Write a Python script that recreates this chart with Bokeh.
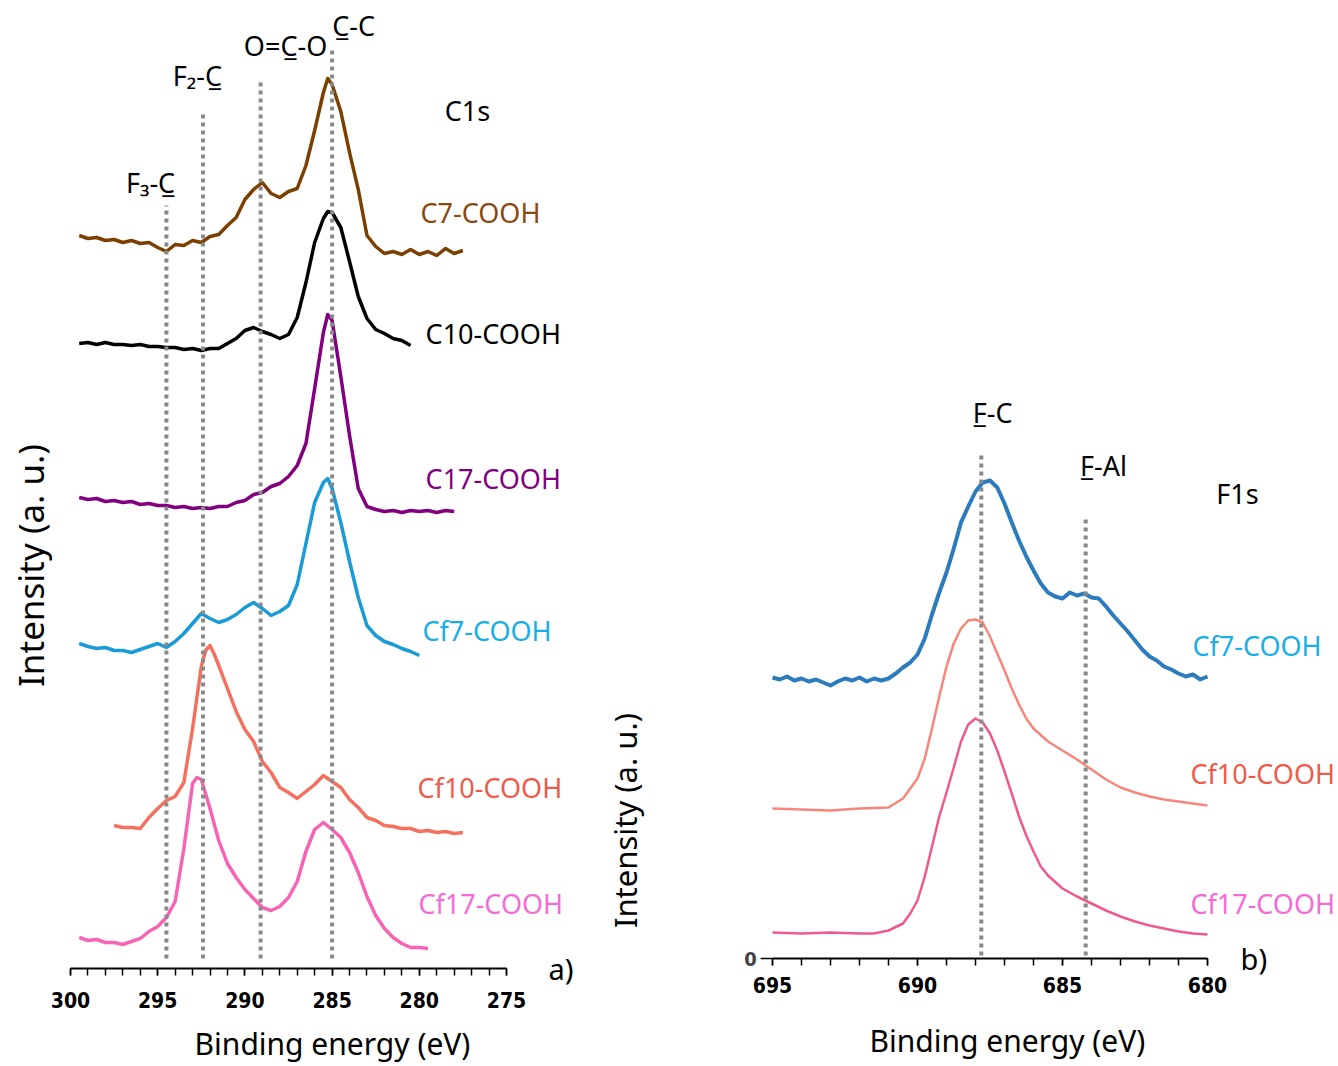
from math import pi
from bokeh.plotting import figure
from bokeh.models import Range1d, SingleIntervalTicker, Label
from bokeh.layouts import row
from bokeh.embed import file_html
from bokeh.resources import INLINE

TXT_FONT = "Noto Sans"
TICK_FONT = "Liberation Sans Narrow, DejaVu Sans Condensed, Liberation Sans"

# ---------------- C1s data (binding energy in eV, intensity in a.u., offset stacked) ----------------
e_main = [299.5, 299.0, 298.5, 298.0, 297.5, 297.0, 296.5, 296.0, 295.5, 295.0,
          294.5, 294.0, 293.5, 293.0, 292.5, 292.0, 291.5, 291.0, 290.5, 290.0,
          289.5, 289.0, 288.5, 288.0, 287.5, 287.0, 286.5, 286.0, 285.5, 285.25]

c7_e = e_main + [285.0, 284.5, 284.0, 283.5, 283.0, 282.5, 282.0, 281.5, 281.0, 280.5,
                 280.0, 279.5, 279.0, 278.5, 278.0, 277.5]
c7_y = [733, 730, 731, 728, 729, 726, 728, 725, 726, 721,
        717, 724, 723, 728, 726, 732, 734, 743, 751, 769,
        779, 786, 775, 771, 777, 780, 803, 838, 876, 890,
        884, 857, 816, 779, 733, 722, 715, 717, 714, 719,
        714, 717, 713, 720, 715, 718]

c10_e = e_main + [285.0, 284.5, 284.0, 283.5, 283.0, 282.5, 282.0, 281.5, 281.0, 280.5]
c10_y = [625, 626, 624, 626, 624, 624, 623, 624, 622, 622,
         621, 621, 619, 620, 618, 620, 620, 625, 630, 638,
         641, 637, 634, 630, 634, 651, 686, 726, 750, 757,
         756, 741, 707, 672, 650, 639, 635, 630, 628, 623]

c17_e = e_main + [285.0, 284.5, 284.0, 283.5, 283.0, 282.5, 282.0, 281.5, 281.0, 280.5,
                  280.0, 279.5, 279.0, 278.5, 278.0]
c17_y = [471, 469, 470, 467, 468, 466, 467, 464, 465, 463,
         463, 461, 462, 460, 461, 460, 462, 462, 466, 468,
         474, 476, 482, 485, 492, 503, 525, 580, 636, 654,
         648, 592, 533, 480, 462, 459, 457, 458, 456, 458,
         457, 458, 456, 458, 457]

cf7_e = e_main + [285.0, 284.5, 284.0, 283.5, 283.0, 282.5, 282.0, 281.5, 281.0, 280.5,
                  280.0]
cf7_y = [325, 322, 320, 321, 318, 318, 316, 319, 322, 325,
         321, 327, 335, 345, 355, 350, 346, 349, 354, 361,
         366, 360, 353, 357, 363, 384, 425, 466, 486, 490,
         480, 446, 407, 371, 343, 333, 327, 324, 320, 317,
         313]

cf10_e = [297.5, 297.0, 296.5, 296.0, 295.5, 295.0, 294.5, 294.0, 293.5, 293.0,
          292.5, 292.25, 292.0, 291.75,
          291.5, 291.0, 290.5, 290.0, 289.5, 289.0, 288.5, 288.0, 287.5, 287.0,
          286.5, 286.0, 285.5, 285.0, 284.5, 284.0, 283.5, 283.0, 282.5, 282.0,
          281.5, 281.0, 280.5, 280.0, 279.5, 279.0, 278.5, 278.0, 277.5]
cf10_y = [143, 141, 141, 140, 151, 160, 168, 172, 186, 240,
          302, 318, 323, 314,
          303, 280, 257, 239, 227, 207, 196, 181, 176, 170,
          177, 184, 193, 187, 181, 169, 161, 151, 148, 143,
          142, 140, 140, 137, 138, 136, 137, 135, 136]

cf17_e = [299.5, 299.0, 298.5, 298.0, 297.5, 297.0, 296.5, 296.0, 295.5, 295.0,
          294.5, 294.0, 293.5, 293.0,
          292.75,
          292.5, 292.0, 291.5, 291.0, 290.5, 290.0, 289.5, 289.0, 288.5, 288.0,
          287.5, 287.0, 286.5, 286.0, 285.5, 285.0, 284.5, 284.0, 283.5, 283.0,
          282.5, 282.0, 281.5, 281.0, 280.5, 280.0, 279.5]
cf17_y = [31, 28, 29, 26, 26, 24, 27, 30, 37, 42,
          51, 67, 120, 185,
          191,
          189, 160, 128, 105, 91, 79, 70, 61, 58, 62,
          71, 87, 117, 139, 146, 139, 131, 116, 96, 72,
          53, 40, 31, 25, 21, 21, 20]

c1s_names = ["C7-COOH", "C10-COOH", "C17-COOH", "Cf7-COOH", "Cf10-COOH", "Cf17-COOH"]
c1s_line_colors = ["#7b3f00", "#000000", "#800080", "#1a9ad6", "#f4705f", "#f864b4"]
c1s_text_colors = ["#8a4a10", "#000000", "#800080", "#18aee8", "#f05a4a", "#f56bd6"]
c1s_peak_e = [294.5, 292.4, 289.1, 285.0]
c1s_peak_top = [763, 858, 886, 920]
c1s_peak_labels = ["F\u2083-C\u0332", "F\u2082-C\u0332", "O=C\u0332-O", "C\u0332-C"]

# ---------------- F1s data ----------------
f7_e = [695.0, 694.75, 694.5, 694.25, 694.0, 693.75, 693.5, 693.25, 693.0, 692.75,
        692.5, 692.25, 692.0, 691.75, 691.5, 691.25, 691.0, 690.75, 690.5, 690.25,
        690.0, 689.75, 689.5, 689.25, 689.0, 688.75, 688.5, 688.25, 688.0, 687.75,
        687.5, 687.25, 687.0, 686.75, 686.5, 686.25, 686.0, 685.75, 685.5, 685.25,
        685.0, 684.75, 684.5, 684.25, 684.0, 683.75, 683.5, 683.25, 683.0, 682.75,
        682.5, 682.25, 682.0, 681.75, 681.5, 681.25, 681.0, 680.75, 680.5, 680.25,
        680.0]
f7_y = [281, 279, 282, 278, 280, 277, 279, 276, 273, 277,
        280, 278, 281, 277, 280, 278, 280, 285, 291, 296,
        304, 320, 344, 366, 386, 410, 436, 452, 467, 476,
        478, 471, 455, 436, 418, 402, 388, 375, 366, 362,
        360, 366, 363, 365, 361, 360, 352, 343, 335, 327,
        318, 309, 302, 298, 292, 289, 285, 282, 284, 279,
        282]

f10_e = [695.0, 694.0, 693.0, 692.0, 691.0, 690.5, 690.0, 689.75, 689.5, 689.25,
         689.0, 688.75, 688.5, 688.25, 688.0, 687.75, 687.5, 687.25, 687.0, 686.75,
         686.5, 686.25, 686.0, 685.5, 685.0, 684.5, 684.0, 683.5, 683.0, 682.5,
         682.0, 681.5, 681.0, 680.5, 680.0]
f10_y = [150, 149, 148, 150, 151, 160, 180, 200, 230, 262,
         292, 315, 330, 338, 339, 336, 322, 305, 288, 270,
         254, 240, 230, 217, 208, 199, 189, 179, 171, 166,
         162, 159, 157, 155, 153]

f17_e = [695.0, 694.0, 693.0, 692.0, 691.5, 691.0, 690.5, 690.25, 690.0, 689.75,
         689.5, 689.25, 689.0, 688.75, 688.5, 688.25, 688.0, 687.75, 687.5, 687.25,
         687.0, 686.75, 686.5, 686.25, 686.0, 685.75, 685.5, 685.0, 684.5, 684.0,
         683.5, 683.0, 682.5, 682.0, 681.5, 681.0, 680.5, 680.0]
f17_y = [26, 25, 26, 25, 25, 28, 35, 45, 58, 82,
         112, 142, 166, 191, 217, 234, 240, 236, 225, 208,
         187, 165, 142, 123, 107, 92, 83, 70, 62, 55,
         48, 42, 37, 33, 30, 27, 25, 24]

f1s_names = ["Cf7-COOH", "Cf10-COOH", "Cf17-COOH"]
f1s_line_colors = ["#2b7bbd", "#f7877d", "#ee5a8f"]
f1s_text_colors = ["#18aee8", "#f05a4a", "#f56bd6"]
f1s_line_widths = [4, 2.5, 2.5]
f1s_peak_e = [687.8, 684.2]
f1s_peak_top = [503, 443]
f1s_peak_labels = ["F\u0332-C", "F\u0332-Al"]

GUIDE_COLOR = "#8a8a8a"
FIG_H = 1064


def base_figure(width, x_range, y_range, axis_bounds, label_standoff):
    p = figure(width=width, height=FIG_H, x_range=Range1d(*x_range), y_range=Range1d(*y_range),
               min_border_left=0, min_border_right=0, min_border_top=0, min_border_bottom=0,
               output_backend="svg", toolbar_location=None)
    p.outline_line_color = None
    p.xgrid.visible = False
    p.ygrid.visible = False
    p.yaxis.visible = False
    p.background_fill_color = "white"
    p.border_fill_color = "white"
    ax = p.xaxis[0]
    ax.fixed_location = 0
    ax.bounds = axis_bounds
    ax.ticker = SingleIntervalTicker(interval=5, num_minor_ticks=5)
    ax.axis_line_width = 2
    ax.axis_line_color = "black"
    ax.major_tick_out = 7
    ax.major_tick_in = 0
    ax.minor_tick_out = 7
    ax.minor_tick_in = 0
    ax.major_tick_line_width = 1.5
    ax.minor_tick_line_width = 1.5
    ax.major_tick_line_color = "black"
    ax.minor_tick_line_color = "black"
    ax.major_label_text_font = TICK_FONT
    ax.major_label_text_font_style = "bold"
    ax.major_label_text_font_size = "21px"
    ax.major_label_text_color = "black"
    ax.major_label_standoff = label_standoff
    return p


def add_label(p, x, y, text, size, color="black", align="center", angle=0.0, style="normal"):
    p.add_layout(Label(x=x, y=y, text=text, text_font=TXT_FONT, text_font_size=size,
                       text_color=color, text_align=align, text_baseline="middle",
                       angle=angle, text_font_style=style))


# ---------------- left panel: C1s ----------------
p1 = base_figure(590, (304.014, 270.183), (968 - FIG_H, 968), (275, 300), 16)

c1s_series = [(c7_e, c7_y), (c10_e, c10_y), (c17_e, c17_y),
              (cf7_e, cf7_y), (cf10_e, cf10_y), (cf17_e, cf17_y)]
for (xs, ys), col in zip(c1s_series, c1s_line_colors):
    p1.line(xs, ys, line_color=col, line_width=3.5, line_join="round")

p1.segment(x0=c1s_peak_e, y0=[10] * len(c1s_peak_e), x1=c1s_peak_e, y1=c1s_peak_top,
           line_color=GUIDE_COLOR, line_width=4, line_dash="4 4")

c1s_label_pos = [(279.93, 756), (279.64, 635), (279.64, 490), (279.82, 338), (280.10, 181), (280.05, 65)]
for name, col, (lx, ly) in zip(c1s_names, c1s_text_colors, c1s_label_pos):
    add_label(p1, lx, ly, name, "27px", col, align="left")

c1s_peak_label_pos = [(295.41, 786), (292.72, 893), (287.67, 923), (283.77, 943)]
for txt, (lx, ly) in zip(c1s_peak_labels, c1s_peak_label_pos):
    add_label(p1, lx, ly, txt, "27px")

add_label(p1, 277.24, 858, "C1s", "27px")
add_label(p1, 272.59, 0, "a)", "29px", align="left")
add_label(p1, 284.98, -75, "Binding energy (eV)", "30px")
add_label(p1, 302.29, 403, "Intensity (a. u.)", "35px", angle=pi / 2)

# ---------------- right panel: F1s ----------------
p2 = base_figure(748, (701.276, 675.483), (958 - FIG_H, 958), (680, 695), 11)

f1s_series = [(f7_e, f7_y), (f10_e, f10_y), (f17_e, f17_y)]
for (xs, ys), col, lw in zip(f1s_series, f1s_line_colors, f1s_line_widths):
    p2.line(xs, ys, line_color=col, line_width=lw, line_join="round")

p2.segment(x0=f1s_peak_e, y0=[3] * len(f1s_peak_e), x1=f1s_peak_e, y1=f1s_peak_top,
           line_color=GUIDE_COLOR, line_width=4, line_dash="4 4")

# intensity-axis zero tick of the F1s panel
y_zero_tick = [0]
p2.segment(x0=[695.41], y0=y_zero_tick, x1=[695.0], y1=y_zero_tick, line_color="black", line_width=1.5)
p2.add_layout(Label(x=695.76, y=0, text="0", text_font=TICK_FONT, text_font_style="bold",
                    text_font_size="20px", text_align="center", text_baseline="middle"))

f1s_label_pos = [(680.52, 313), (680.59, 185), (680.59, 55)]
for name, col, (lx, ly) in zip(f1s_names, f1s_text_colors, f1s_label_pos):
    add_label(p2, lx, ly, name, "27px", col, align="left")

f1s_peak_label_pos = [(687.41, 546), (683.59, 493)]
for txt, (lx, ly) in zip(f1s_peak_labels, f1s_peak_label_pos):
    add_label(p2, lx, ly, txt, "27px")

add_label(p2, 678.97, 465, "F1s", "27px")
add_label(p2, 678.86, 0, "b)", "29px", align="left")
add_label(p2, 686.9, -82, "Binding energy (eV)", "30px")
add_label(p2, 700.07, 138, "Intensity (a. u.)", "31px", angle=pi / 2)

layout = row(p1, p2)
open("out.html", "w").write(file_html(layout, INLINE))
